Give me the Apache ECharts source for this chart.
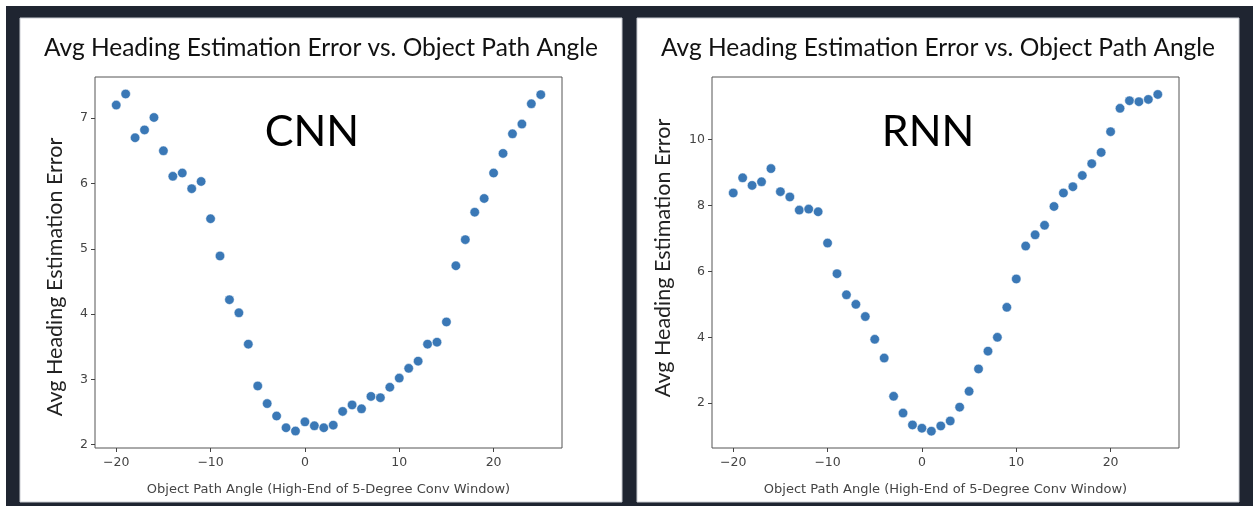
<!DOCTYPE html>
<html>
<head>
<meta charset="utf-8">
<title>Avg Heading Estimation Error vs. Object Path Angle</title>
<script src="https://cdn.jsdelivr.net/npm/echarts@6/dist/echarts.min.js"></script>
<style>
  html, body { margin: 0; padding: 0; background: #1f2531; }
  #chart { width: 1253px; height: 506px; }
</style>
</head>
<body>
<div id="chart"></div>
<script>
// x: object path angle (high end of 5-degree conv window)
const angles = [-20, -19, -18, -17, -16, -15, -14, -13, -12, -11, -10, -9, -8, -7, -6, -5, -4, -3, -2, -1,
  0, 1, 2, 3, 4, 5, 6, 7, 8, 9, 10, 11, 12, 13, 14, 15, 16, 17, 18, 19, 20, 21, 22, 23, 24, 25];

const cnnError = [7.2, 7.37, 6.7, 6.82, 7.01, 6.5, 6.11, 6.16, 5.92, 6.03, 5.46, 4.89, 4.22, 4.02, 3.54, 2.9, 2.63, 2.44, 2.26, 2.21,
  2.35, 2.29, 2.26, 2.3, 2.51, 2.61, 2.55, 2.74, 2.72, 2.88, 3.02, 3.17, 3.28, 3.54, 3.57, 3.88, 4.74, 5.14, 5.56, 5.77, 6.16, 6.46, 6.76, 6.91, 7.22, 7.36];

const rnnError = [8.38, 8.84, 8.61, 8.72, 9.12, 8.42, 8.26, 7.86, 7.89, 7.81, 6.86, 5.93, 5.29, 5.0, 4.63, 3.94, 3.37, 2.21, 1.7, 1.34,
  1.24, 1.15, 1.31, 1.46, 1.88, 2.36, 3.04, 3.58, 4.0, 4.91, 5.77, 6.77, 7.11, 7.4, 7.97, 8.38, 8.57, 8.91, 9.27, 9.61, 10.24, 10.95, 11.18, 11.15, 11.22, 11.37];

const xTicks = [-20, -10, 0, 10, 20];
const cnnTicks = [2, 3, 4, 5, 6, 7];
const rnnTicks = [2, 4, 6, 8, 10];

const titleText = 'Avg Heading Estimation Error vs. Object Path Angle';
const xName = 'Object Path Angle (High-End of 5-Degree Conv Window)';
const yName = 'Avg Heading Estimation Error';

const tickFont = 'DejaVu Sans';
const minus = (v) => String(v).replace('-', '\u2212');

function xAxisCfg(gridIndex) {
  return {
    type: 'value',
    gridIndex,
    min: -22.25,
    max: 27.25,
    name: xName,
    nameLocation: 'middle',
    nameGap: 35,
    nameTextStyle: { fontFamily: tickFont, fontSize: 13, color: '#444' },
    axisLine: { show: false, onZero: false },
    splitLine: { show: false },
    axisTick: { show: true, length: 4, lineStyle: { color: '#444' }, customValues: xTicks },
    axisLabel: { customValues: xTicks, formatter: minus, fontFamily: tickFont, fontSize: 12.5, color: '#444', margin: 8 },
  };
}

function yAxisCfg(gridIndex, min, max, ticks) {
  return {
    type: 'value',
    gridIndex,
    min,
    max,
    axisLine: { show: false, onZero: false },
    splitLine: { show: false },
    axisTick: { show: true, length: 4, lineStyle: { color: '#444' }, customValues: ticks },
    axisLabel: { customValues: ticks, fontFamily: tickFont, fontSize: 12.5, color: '#444', margin: 7 },
  };
}

function yTitle(x, y) {
  return {
    type: 'text',
    x,
    y,
    rotation: Math.PI / 2,
    style: { text: yName, font: '21.5px Lato', fill: '#222', align: 'center', verticalAlign: 'middle' },
  };
}

function points(ys) {
  return angles.map((a, i) => [a, ys[i]]);
}

const chart = echarts.init(document.getElementById('chart'));
const option = {
  backgroundColor: '#1f2531',
  animation: false,
  graphic: [
    { type: 'rect', shape: { x: 0, y: 0, width: 1253, height: 6 }, style: { fill: '#ffffff' }, z: -10 },
    { type: 'rect', shape: { x: 0, y: 0, width: 6, height: 506 }, style: { fill: '#ffffff' }, z: -10 },
    { type: 'rect', shape: { x: 20, y: 18, width: 602, height: 484 }, style: { fill: '#ffffff', stroke: '#c9ccd2', lineWidth: 1 }, z: -10 },
    { type: 'rect', shape: { x: 637, y: 18, width: 602, height: 484 }, style: { fill: '#ffffff', stroke: '#c9ccd2', lineWidth: 1 }, z: -10 },
    yTitle(55, 277),
    yTitle(663, 258),
  ],
  title: [
    { text: titleText, left: 316, top: 31, textAlign: 'center', textStyle: { fontFamily: 'Lato', fontSize: 24.5, fontWeight: 'normal', color: '#111' } },
    { text: titleText, left: 933, top: 31, textAlign: 'center', textStyle: { fontFamily: 'Lato', fontSize: 24.5, fontWeight: 'normal', color: '#111' } },
    { text: 'CNN', left: 307, top: 106, textAlign: 'center', textStyle: { fontFamily: 'Lato', fontSize: 43, fontWeight: 'normal', color: '#000' } },
    { text: 'RNN', left: 923, top: 106, textAlign: 'center', textStyle: { fontFamily: 'Lato', fontSize: 43, fontWeight: 'normal', color: '#000' } },
  ],
  grid: [
    { left: 95, top: 77, width: 467, height: 371, show: true, borderColor: '#555', borderWidth: 1, backgroundColor: 'transparent' },
    { left: 712, top: 77, width: 467, height: 371, show: true, borderColor: '#555', borderWidth: 1, backgroundColor: 'transparent' },
  ],
  xAxis: [xAxisCfg(0), xAxisCfg(1)],
  yAxis: [
    yAxisCfg(0, 1.95, 7.63, cnnTicks),
    yAxisCfg(1, 0.64, 11.9, rnnTicks),
  ],
  series: [
    {
      name: 'CNN',
      type: 'scatter',
      xAxisIndex: 0,
      yAxisIndex: 0,
      symbolSize: 9.5,
      itemStyle: { color: '#3a78b6', borderColor: '#ffffff', borderWidth: 0.5, opacity: 1 },
      data: points(cnnError),
    },
    {
      name: 'RNN',
      type: 'scatter',
      xAxisIndex: 1,
      yAxisIndex: 1,
      symbolSize: 9.5,
      itemStyle: { color: '#3a78b6', borderColor: '#ffffff', borderWidth: 0.5, opacity: 1 },
      data: points(rnnError),
    },
  ],
};
chart.setOption(option);
window.addEventListener('resize', () => {
  chart.resize();
});
</script>
</body>
</html>
